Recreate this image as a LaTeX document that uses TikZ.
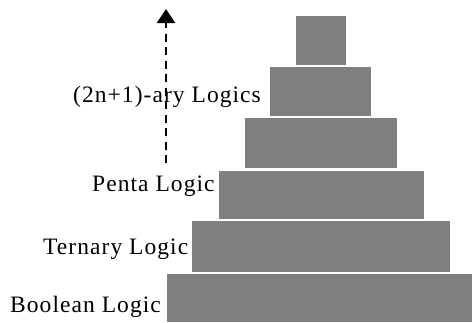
\documentclass[tikz,border=0pt]{standalone}
\usepackage{fontspec}
\setmainfont{Liberation Serif}[LetterSpace=4.5]
\usetikzlibrary{arrows.meta}
\begin{document}
\begin{tikzpicture}[x=1pt,y=-1pt,
  tier/.style={fill=boxgray,draw=none,inner sep=0pt,anchor=north west},
  lbl/.style={inner sep=0pt,anchor=base west,font=\fontsize{23.5}{27}\selectfont},
  growth/.style={dash pattern=on 8pt off 5.5pt,line width=2.3pt,
     -{Triangle[width=18pt,length=14pt]}}]
\definecolor{boxgray}{HTML}{808080}
\useasboundingbox (0,0) rectangle (472,322);
\node[tier,minimum width=50pt,minimum height=49pt] (t6) at (296,16) {};
\node[tier,minimum width=101pt,minimum height=49pt] (t5) at (270,67) {};
\node[tier,minimum width=152pt,minimum height=50pt] (t4) at (245,118) {};
\node[tier,minimum width=205pt,minimum height=48pt] (t3) at (219,171) {};
\node[tier,minimum width=258pt,minimum height=51pt] (t2) at (192,221) {};
\node[tier,minimum width=305pt,minimum height=48pt] (t1) at (167,274) {};
\node[lbl] (l5) at (73,102) {(2n+1)-ary Logics};
\node[lbl] (l3) at (92,191) {Penta Logic};
\node[lbl] (l2) at (43,254) {Ternary Logic};
\node[lbl] (l1) at (10,312) {Boolean Logic};
\coordinate (abot) at (166,163);
\coordinate (atop) at (166,9);
\draw[growth] (abot) -- (atop);
\end{tikzpicture}
\end{document}
